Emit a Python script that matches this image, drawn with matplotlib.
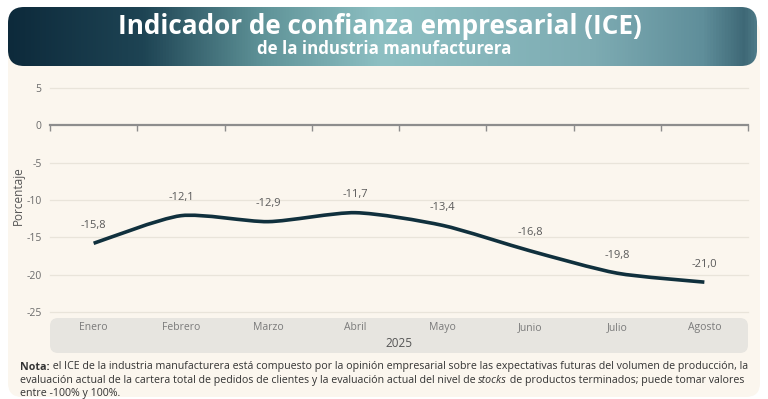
import matplotlib
matplotlib.use("Agg")
import matplotlib.pyplot as plt
import numpy as np
from matplotlib.patches import FancyBboxPatch, PathPatch
from matplotlib.path import Path
from matplotlib.colors import LinearSegmentedColormap
import matplotlib.transforms as mtransforms

months = ["Enero", "Febrero", "Marzo", "Abril", "Mayo", "Junio", "Julio", "Agosto"]
values = [-15.8, -12.1, -12.9, -11.7, -13.4, -16.8, -19.8, -21.0]
labels = ["-15,8", "-12,1", "-12,9", "-11,7", "-13,4", "-16,8", "-19,8", "-21,0"]
yticks = [5, 0, -5, -10, -15, -20, -25]
year = "2025"
title = "Indicador de confianza empresarial (ICE)"
subtitle = "de la industria manufacturera"

FONT = "Open Sans"
W, H = 768, 399
fig = plt.figure(figsize=(W / 100, H / 100), dpi=100)
fig.patch.set_facecolor("white")

def fx(px):
    return px / W

def fy(py):
    return 1 - py / H

# cream panel (background axes)
bg = fig.add_axes([0, 0, 1, 1], zorder=-10)
bg.set_axis_off()
bg.set_xlim(0, W)
bg.set_ylim(H, 0)
bg.add_patch(FancyBboxPatch((8, 20), 752, 377, boxstyle="round,pad=0,rounding_size=14",
                            facecolor="#fbf6ee", edgecolor="none"))
# category band
bg.add_patch(FancyBboxPatch((50, 318), 698, 35, boxstyle="round,pad=0,rounding_size=8",
                            facecolor="#e7e5e0", edgecolor="none"))

# header gradient
hx0, hx1, hy0, hy1 = 8, 757, 7, 66
hax = fig.add_axes([fx(hx0), fy(hy1), fx(hx1 - hx0), (hy1 - hy0) / H], zorder=-5)
hax.set_axis_off()
cmap = LinearSegmentedColormap.from_list("hdr", [
    (0.0, "#0d2a3b"), (0.18, "#1e4454"), (0.34, "#5f9398"), (0.5, "#8ec0c3"),
    (0.78, "#7eacb3"), (0.93, "#5f8e9a"), (0.985, "#3e6876"), (1.0, "#4d7986")])
grad = np.linspace(0, 1, 512).reshape(1, -1)
hax.set_xlim(0, hx1 - hx0)
hax.set_ylim(0, hy1 - hy0)
im = hax.imshow(grad, aspect="auto", cmap=cmap, extent=[0, hx1 - hx0, 0, hy1 - hy0])
clip = FancyBboxPatch((0, 0), hx1 - hx0, hy1 - hy0, boxstyle="round,pad=0,rounding_size=16",
                      facecolor="none", edgecolor="none")
hax.add_patch(clip)
im.set_clip_path(clip)
fig.text(fx(380), fy(26), title, ha="center", va="center", color="white",
         fontsize=18.8, fontweight="bold", family=FONT)
fig.text(fx(384), fy(48.5), subtitle, ha="center", va="center", color="white",
         fontsize=12.2, fontweight="bold", family=FONT)

# main axes
ax_l, ax_r, ax_t, ax_b = 50, 748, 88, 312
ax = fig.add_axes([fx(ax_l), fy(ax_b), fx(ax_r - ax_l), (ax_b - ax_t) / H])
ax.set_facecolor("none")
n = len(months)
x = np.arange(n)
ax.set_xlim(-0.5, n - 0.5)
ax.set_ylim(-25, 5)
for s in ax.spines.values():
    s.set_visible(False)
ax.set_xticks([])
ax.set_yticks(yticks)
ax.set_yticklabels([str(t) for t in yticks], family=FONT, fontsize=7.5, color="#6b6b6b")
ax.tick_params(axis="y", length=0, pad=6)
for t in yticks:
    if t != 0:
        ax.axhline(t, color="#e9e4da", lw=0.9, zorder=1, clip_on=False)
ax.axhline(0, color="#8d8d8d", lw=1.6, zorder=2, clip_on=False)
for b in np.arange(-0.5, n, 1.0):
    ax.plot([b, b], [0, -0.7], color="#8d8d8d", lw=1.0, zorder=2, clip_on=False,
            solid_capstyle="butt")

ax.set_ylabel("Porcentaje", family=FONT, fontsize=8.5, color="#555555")
ax.yaxis.set_label_coords((25 - ax_l) / (ax_r - ax_l), (ax_b - 196) / (ax_b - ax_t))

# smooth line through data points (cubic Bezier with tension)
y = np.array(values, dtype=float)
verts = [(x[0], y[0])]
codes = [Path.MOVETO]
tens = 0.12
for i in range(n - 1):
    p0 = (x[i - 1], y[i - 1]) if i > 0 else (x[i], y[i])
    p1 = (x[i], y[i])
    p2 = (x[i + 1], y[i + 1])
    p3 = (x[i + 2], y[i + 2]) if i + 2 < n else (x[i + 1], y[i + 1])
    c1 = (p1[0] + (p2[0] - p0[0]) * tens, p1[1] + (p2[1] - p0[1]) * tens)
    c2 = (p2[0] - (p3[0] - p1[0]) * tens, p2[1] - (p3[1] - p1[1]) * tens)
    verts += [c1, c2, p2]
    codes += [Path.CURVE4] * 3
path = Path(verts, codes)
ax.add_patch(PathPatch(path, facecolor="none", edgecolor="#10303d", lw=2.6,
                       capstyle="butt", zorder=4))

for xi, yi, lab in zip(x, values, labels):
    ax.annotate(lab, (xi, yi), xytext=(0, 13), textcoords="offset points",
                ha="center", va="center", fontsize=8, color="#5a5a5a", family=FONT)

btrans = mtransforms.blended_transform_factory(ax.transData, fig.transFigure)
for xi, m in zip(x, months):
    ax.text(xi, fy(327.5), m, transform=btrans, ha="center", va="center",
            fontsize=7.5, color="#7a7a7a", family=FONT, clip_on=False)
fig.text(fx(399), fy(343.5), year, ha="center", va="center", fontsize=8.5,
         color="#555555", family=FONT)

# note text with mixed styles
renderer = fig.canvas.get_renderer()
def write_line(pieces, px, py, fs=7.65):
    xcur = fx(px)
    for txt, kw in pieces:
        t = fig.text(xcur, fy(py), txt, ha="left", va="center", fontsize=fs,
                     color="#333333", family=FONT, **kw)
        bb = t.get_window_extent(renderer=renderer)
        xcur += bb.width / fig.bbox.width

write_line([("Nota:", {"fontweight": "bold"}),
            (" el ICE de la industria manufacturera está compuesto por la opinión empresarial sobre las expectativas futuras del volumen de producción, la", {})],
           20, 367)
write_line([("evaluación actual de la cartera total de pedidos de clientes y la evaluación actual del nivel de ", {}),
            ("stocks", {"style": "italic"}),
            (" de productos terminados; puede tomar valores", {})], 20, 380.5)
write_line([("entre -100% y 100%.", {})], 20, 393.5)

fig.savefig("out.png", dpi=100, facecolor=fig.get_facecolor())
